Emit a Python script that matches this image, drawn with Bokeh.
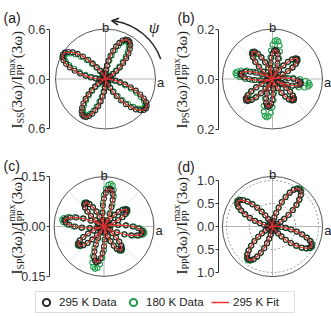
import numpy as np
from bokeh.plotting import figure
from bokeh.models import (Range1d, LinearAxis, FixedTicker, Label, Legend, LegendItem,
                          Arrow, OpenHead, CustomJSTickFormatter)
from bokeh.layouts import column, row
from bokeh.embed import file_html
from bokeh.resources import INLINE

# polarisation angle psi (degrees)
angle_deg = list(range(0, 360, 3))

# (a) I_SS
ss_fit_295 = [.018, .005, .001, 0, 0, 0, .001, .005, .016, .036,
              .068, .110, .162, .221, .286, .351, .412, .464, .505, .531,
              .540, .531, .505, .464, .412, .351, .286, .221, .162, .110,
              .068, .036, .016, .005, .001, 0, .001, .005, .017, .040,
              .074, .120, .177, .242, .312, .383, .450, .507, .552, .581,
              .590, .581, .552, .507, .450, .383, .312, .242, .177, .120,
              .074, .040, .017, .005, .001, 0, .001, .005, .015, .035,
              .065, .106, .156, .213, .275, .338, .396, .447, .487, .512,
              .520, .512, .487, .447, .396, .338, .275, .213, .156, .106,
              .065, .035, .015, .005, .001, .005, .018, .040, .075, .122,
              .180, .246, .318, .390, .457, .516, .561, .590, .600, .590,
              .561, .516, .457, .390, .318, .246, .180, .122, .075, .040]
ss_data_180 = [.005, .001, 0, 0, 0, 0, 0, .001, .005, .014,
               .033, .062, .104, .159, .223, .293, .362, .425, .476, .509,
               .520, .509, .476, .425, .362, .293, .223, .159, .104, .062,
               .033, .014, .005, .001, 0, 0, 0, .001, .005, .015,
               .036, .068, .114, .174, .244, .321, .397, .466, .522, .557,
               .570, .557, .522, .466, .397, .321, .244, .174, .114, .068,
               .036, .015, .005, .001, 0, 0, 0, .001, .005, .014,
               .031, .060, .100, .153, .214, .281, .348, .409, .458, .489,
               .500, .489, .458, .409, .348, .281, .214, .153, .100, .060,
               .031, .014, .005, .001, 0, .001, .005, .016, .036, .069,
               .116, .177, .248, .326, .404, .474, .531, .567, .580, .567,
               .531, .474, .404, .326, .248, .177, .116, .069, .036, .016]

# (b) I_PS
ps_fit_295 = [.084, .063, .041, .020, .004, 0, .004, .022, .045, .070,
              .093, .112, .124, .128, .124, .112, .093, .070, .045, .022,
              .004, .004, .020, .041, .064, .085, .102, .113, .117, .113,
              .102, .085, .064, .041, .020, .004, .023, .048, .074, .098,
              .118, .131, .135, .131, .118, .098, .074, .048, .023, .005,
              .004, .022, .046, .071, .094, .113, .125, .129, .125, .113,
              .094, .071, .046, .022, .004, 0, .005, .023, .048, .074,
              .099, .119, .132, .136, .132, .119, .099, .074, .048, .023,
              .005, .019, .040, .062, .082, .099, .109, .113, .109, .099,
              .082, .062, .040, .019, .004, 0, 0, 0, .004, .021,
              .042, .066, .087, .105, .116, .120, .116, .105, .087, .066,
              .042, .021, .041, .063, .084, .101, .111, .115, .111, .101]
ps_data_180 = [.110, .083, .053, .026, .005, 0, .004, .022, .044, .068,
               .091, .109, .121, .125, .121, .109, .091, .068, .044, .022,
               .004, .005, .027, .056, .086, .114, .137, .152, .157, .152,
               .137, .114, .086, .056, .027, .005, .022, .046, .071, .095,
               .114, .126, .130, .126, .114, .095, .071, .046, .022, .004,
               .005, .026, .053, .082, .109, .131, .145, .150, .145, .131,
               .109, .082, .053, .026, .005, 0, .004, .022, .046, .071,
               .095, .114, .126, .130, .126, .114, .095, .071, .046, .022,
               .004, .027, .055, .085, .113, .135, .150, .155, .150, .135,
               .113, .085, .055, .027, .005, 0, 0, 0, .004, .020,
               .042, .065, .086, .103, .114, .118, .114, .103, .086, .065,
               .042, .026, .053, .083, .110, .132, .146, .151, .146, .132]

# (c) I_SP
sp_fit_295 = [.086, .065, .042, .020, .004, .003, .015, .030, .046, .062,
              .074, .082, .085, .082, .074, .062, .046, .030, .015, .003,
              .004, .020, .041, .063, .084, .101, .111, .115, .111, .101,
              .084, .063, .041, .020, .004, 0, .003, .016, .032, .050,
              .066, .080, .088, .091, .088, .080, .066, .050, .032, .016,
              .004, .021, .042, .066, .087, .105, .116, .120, .116, .105,
              .087, .066, .042, .021, .004, .003, .016, .034, .052, .069,
              .083, .092, .095, .092, .083, .069, .052, .034, .016, .003,
              .019, .039, .060, .080, .096, .106, .110, .106, .096, .080,
              .060, .039, .019, .004, 0, .003, .015, .031, .048, .064,
              .077, .085, .088, .085, .077, .064, .048, .031, .015, .003,
              .004, .020, .042, .065, .086, .103, .114, .118, .114, .103]
sp_data_180 = [.090, .067, .044, .021, .004, .003, .015, .031, .048, .063,
               .076, .084, .087, .084, .076, .063, .048, .031, .015, .003,
               .004, .022, .046, .071, .095, .114, .126, .130, .126, .114,
               .095, .071, .046, .022, .004, 0, .003, .016, .033, .051,
               .068, .081, .090, .093, .090, .081, .068, .051, .033, .016,
               .004, .022, .045, .069, .092, .111, .123, .127, .123, .111,
               .092, .069, .045, .022, .004, .003, .017, .034, .053, .071,
               .085, .094, .097, .094, .085, .071, .053, .034, .017, .003,
               .022, .046, .071, .095, .114, .126, .130, .126, .114, .095,
               .071, .046, .022, .004, 0, .003, .015, .032, .049, .066,
               .079, .087, .090, .087, .079, .066, .049, .032, .015, .003,
               .004, .021, .044, .067, .090, .108, .119, .123, .119, .108]

# (d) I_PP
pp_fit_295 = [.113, .059, .026, .009, .002, .002, .009, .027, .063, .119,
              .200, .305, .428, .563, .696, .818, .915, .978, 1.0, .978,
              .915, .818, .696, .563, .428, .305, .200, .119, .063, .027,
              .009, .002, 0, 0, 0, .002, .008, .025, .058, .111,
              .186, .284, .398, .523, .647, .761, .851, .910, .930, .910,
              .851, .761, .647, .523, .398, .284, .186, .111, .058, .025,
              .008, .002, 0, 0, 0, .002, .008, .024, .056, .106,
              .178, .271, .381, .501, .619, .728, .814, .870, .890, .870,
              .814, .728, .619, .501, .381, .271, .178, .106, .056, .024,
              .008, .002, 0, 0, 0, 0, 0, 0, .002, .009,
              .026, .059, .113, .190, .290, .407, .534, .661, .777, .869,
              .929, .950, .929, .869, .777, .661, .534, .407, .290, .190]
pp_data_180 = [.115, .061, .026, .009, .002, .002, .009, .028, .064, .121,
               .204, .311, .437, .574, .710, .834, .933, .998, 1.02, .998,
               .933, .834, .710, .574, .437, .311, .204, .121, .064, .028,
               .009, .002, 0, 0, 0, .002, .009, .026, .059, .113,
               .190, .290, .407, .534, .661, .777, .869, .929, .950, .929,
               .869, .777, .661, .534, .407, .290, .190, .113, .059, .026,
               .009, .002, 0, 0, 0, .002, .008, .025, .057, .108,
               .182, .278, .389, .512, .633, .744, .833, .890, .910, .890,
               .833, .744, .633, .512, .389, .278, .182, .108, .057, .025,
               .008, .002, 0, 0, 0, 0, 0, 0, .002, .009,
               .026, .061, .115, .194, .296, .415, .546, .675, .793, .888,
               .949, .970, .949, .888, .793, .675, .546, .415, .296, .194]

ss_ticks = [-0.6, 0.0, 0.6]
ps_ticks = [-0.2, 0.0, 0.2]
sp_ticks = [-0.15, 0.0, 0.15]
pp_ticks = [-1.0, -0.5, 0.0, 0.5, 1.0]
legend_labels = ["295 K Data", "180 K Data", "295 K Fit"]

BLACK = "#262626"
GREEN = "#1f9e48"
RED = "#e8322f"
TEXT = "#222222"
SANS = "Liberation Sans"
SERIF = "Liberation Serif"

th = np.deg2rad(np.array(angle_deg, dtype=float))


def bare(w, h, xr, yr):
    p = figure(width=w, height=h, output_backend="svg", toolbar_location=None,
               x_axis_location=None, y_axis_location=None, x_range=xr, y_range=yr,
               min_border_left=0, min_border_right=0, min_border_top=0,
               min_border_bottom=0, outline_line_color=None,
               background_fill_color="white", border_fill_color="white")
    p.xgrid.visible = False
    p.ygrid.visible = False
    return p


def panel(fig_x, fig_y, w, h, axis_x, cx, cy, s, R, ticks, digits, fit, d180,
          sub, tag, tag_pos, label_bx, label_y0, diag=False, dotted=(), arrow=False):
    def c(X, Y):
        return (X - cx) / s, (cy - Y) / s

    p = bare(w, h, Range1d((fig_x - cx) / s, (fig_x + w - cx) / s),
             Range1d((cy - fig_y - h) / s, (cy - fig_y) / s))

    def txt(X, Y, t, size, font=SANS, align="left", baseline="alphabetic",
            angle=0.0, style="normal"):
        x, y = c(X, Y)
        p.add_layout(Label(x=x, y=y, text=t, text_font=font, text_font_size="%gpx" % size,
                           text_align=align, text_baseline=baseline, angle=angle,
                           text_font_style=style, text_color=TEXT))

    if diag:
        d = R / np.sqrt(2)
        p.segment(x0=[-d, -d], y0=[-d, d], x1=[d, d], y1=[d, -d],
                  line_color="#e3e3e3", line_width=1)
    p.segment(x0=[-R, 0], y0=[0, -R], x1=[R, 0], y1=[0, R],
              line_color="#b8b8b8", line_width=1)
    for rr in dotted:
        p.circle(x=0, y=0, radius=rr, fill_color=None, line_color="#9a9a9a",
                 line_dash="2 2", line_width=1)
    p.circle(x=0, y=0, radius=R, fill_color=None, line_color="#555555", line_width=1)

    r180 = np.array(d180, dtype=float)
    rfit = np.array(fit, dtype=float)
    p.scatter(r180 * np.cos(th), r180 * np.sin(th), marker="circle", size=5,
              fill_color=None, line_color=GREEN, line_width=1.1)
    p.scatter(rfit * np.cos(th), rfit * np.sin(th), marker="circle", size=5,
              fill_color=None, line_color=BLACK, line_width=1.1)
    xf = np.append(rfit * np.cos(th), rfit[0] * np.cos(th[0]))
    yf = np.append(rfit * np.sin(th), rfit[0] * np.sin(th[0]))
    p.line(xf, yf, line_color=RED, line_width=1.2)

    ax = LinearAxis(ticker=FixedTicker(ticks=ticks), bounds=(min(ticks), max(ticks)),
                    fixed_location=(axis_x - cx) / s,
                    formatter=CustomJSTickFormatter(code="return Math.abs(tick).toFixed(%d);" % digits),
                    axis_line_color="#333333", axis_line_width=1,
                    major_tick_line_color="#333333", major_tick_in=0, major_tick_out=3,
                    minor_tick_in=0, minor_tick_out=0, major_label_standoff=1,
                    major_label_text_font=SANS, major_label_text_font_size="12.5px",
                    major_label_text_color="#333333")
    p.add_layout(ax, "left")

    # rotated y label  I_sub(3w)/I_PP^max(3w)
    up = np.pi / 2
    y = label_y0
    txt(label_bx, y, "I", 15, SERIF, angle=up)
    y -= 5.0
    txt(label_bx + 3, y, sub, 10, SERIF, angle=up)
    y -= 11.1
    txt(label_bx, y, "(3\u03c9)/I", 15, SERIF, angle=up)
    y -= 36.9
    txt(label_bx - 6, y, "max", 10, SERIF, angle=up)
    txt(label_bx + 3, y, "PP", 10, SERIF, angle=up)
    y -= 17.2
    txt(label_bx, y, "(3\u03c9)", 15, SERIF, angle=up)

    txt(tag_pos[0], tag_pos[1], tag, 14)
    txt(cx, cy - R * s - 1.5, "b", 13, align="center")
    txt(cx + R * s + 1.5, cy + 3.5, "a", 13)

    if arrow:
        ra = 0.705
        p.arc(x=0, y=0, radius=ra, start_angle=np.deg2rad(20), end_angle=np.deg2rad(80),
              line_color=BLACK, line_width=1.5)
        p.add_layout(Arrow(end=OpenHead(size=7, line_width=1.5, line_color=BLACK),
                           x_start=ra * np.cos(np.deg2rad(78)), y_start=ra * np.sin(np.deg2rad(78)),
                           x_end=ra * np.cos(np.deg2rad(84)), y_end=ra * np.sin(np.deg2rad(84)),
                           line_color=BLACK, line_width=1.5))
        txt(153.5, 27, "\u03c8", 17, SERIF, align="center", baseline="middle", style="italic")
    return p


# page pixels: top row y 0..145, bottom row y 145..285
pa = panel(0, 0, 165, 145, 49, 105, 78.5, 83.3, 0.6, ss_ticks, 1, ss_fit_295, ss_data_180,
           "SS", "(a)", (3, 17), 16.5, 128, arrow=True)
pb = panel(165, 0, 166, 145, 218, 272, 78.5, 250, 0.2, ps_ticks, 1, ps_fit_295, ps_data_180,
           "PS", "(b)", (177, 17), 181.5, 128, diag=True)
pc = panel(0, 145, 165, 140, 49, 103.5, 226, 333, 0.15, sp_ticks, 2, sp_fit_295, sp_data_180,
           "SP", "(c)", (3, 165), 16.5, 274, diag=True)
pd = panel(165, 145, 166, 140, 218, 272, 226, 46, 1.09, pp_ticks, 1, pp_fit_295, pp_data_180,
           "PP", "(d)", (177, 166), 181.5, 274, dotted=(0.5, 1.0))

pl = bare(331, 31, Range1d(0, 1), Range1d(0, 1))
g1 = pl.scatter(x=[np.nan], y=[np.nan], marker="circle", size=7, fill_color=None,
                line_color=BLACK, line_width=2)
g2 = pl.scatter(x=[np.nan], y=[np.nan], marker="circle", size=7, fill_color=None,
                line_color=GREEN, line_width=2)
g3 = pl.line(x=[np.nan, np.nan], y=[np.nan, np.nan], line_color=RED, line_width=1.5)
leg = Legend(items=[LegendItem(label=legend_labels[0], renderers=[g1]),
                    LegendItem(label=legend_labels[1], renderers=[g2]),
                    LegendItem(label=legend_labels[2], renderers=[g3])],
             orientation="horizontal", location=(35, 3), margin=0, padding=1,
             spacing=5, label_standoff=4, glyph_width=18, glyph_height=18,
             label_height=18, label_width=60,
             label_text_font=SANS, label_text_font_size="11.5px", label_text_color=TEXT,
             border_line_color="#bbbbbb", border_line_width=1,
             background_fill_color="white", background_fill_alpha=1)
pl.add_layout(leg)

layout = column(row(pa, pb), row(pc, pd), pl)
open("out.html", "w").write(file_html(layout, INLINE, "Polar SHG"))
